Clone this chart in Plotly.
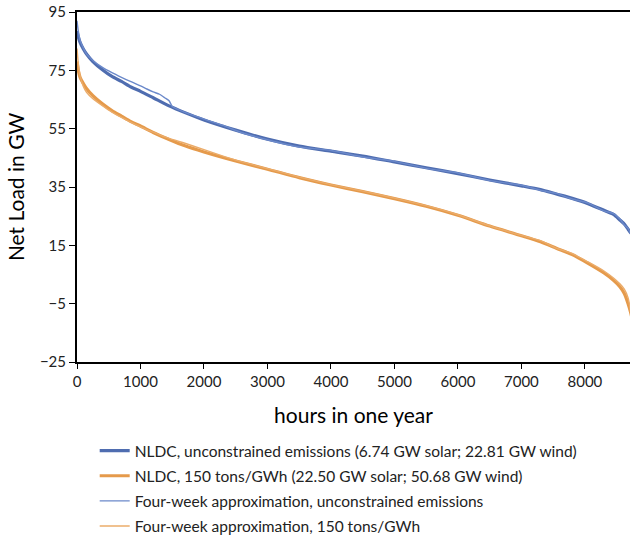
import plotly.graph_objects as go

# ---------------- data ----------------
hours = [0, 20, 50, 100, 150, 250, 400, 550, 700, 850, 1000, 1200, 1450, 1700,
         2000, 2500, 3000, 3500, 4000, 4500, 5000, 5500, 6000, 6500, 7000, 7300,
         7550, 7800, 8050, 8300, 8450, 8550, 8620, 8680, 8720, 8760]

nldc_unconstrained = [88.5, 86.5, 84.5, 82.3, 80.6, 78.0, 75.2, 72.9, 71.2, 69.3,
                      67.8, 65.6, 62.8, 60.5, 58.0, 54.5, 51.4, 49.0, 47.3, 45.6,
                      43.6, 41.6, 39.6, 37.4, 35.4, 34.1, 32.6, 31.1, 29.3, 27.0,
                      25.6, 23.7, 22.3, 20.5, 19.3, 18.5]

nldc_150 = [78.0, 75.0, 72.5, 70.5, 68.8, 66.3, 63.5, 61.2, 59.3, 57.4,
            55.9, 53.7, 51.3, 49.1, 47.0, 43.9, 41.1, 38.2, 35.7, 33.4,
            31.0, 28.4, 25.3, 21.6, 18.3, 16.2, 14.0, 11.8, 8.8, 5.5,
            3.0, 0.8, -1.5, -5.0, -8.0, -12.0]

approx_hours = [0, 20, 50, 100, 150, 250, 400, 550, 700, 850, 1000, 1100, 1200,
                1300, 1380, 1450, 1500, 1700, 2000, 2300, 2600, 3000, 3500, 4000,
                4500, 5000, 5500, 6000, 6500, 7000, 7300, 7550, 7800, 8050, 8300,
                8450, 8550, 8620, 8680, 8720, 8760]

approx_unconstrained = [92.0, 88.5, 85.2, 82.6, 80.6, 78.4, 76.0, 74.2, 72.6, 71.1,
                        69.7, 68.6, 67.6, 66.8, 65.6, 64.6, 62.6, 60.6, 58.3, 56.1,
                        53.6, 51.2, 48.7, 47.5, 45.3, 43.8, 41.4, 39.8, 37.2, 35.6,
                        33.9, 32.8, 30.9, 29.5, 26.8, 25.9, 24.0, 22.0, 20.8, 19.0,
                        18.0]

approx_150 = [82.5, 77.5, 73.0, 69.5, 67.5, 65.3, 62.9, 60.7, 58.9, 57.2,
              55.6, 54.6, 53.8, 52.9, 52.2, 51.7, 51.3, 50.0, 47.8, 45.6,
              43.6, 41.3, 38.4, 35.8, 33.6, 31.2, 28.6, 25.5, 21.7, 18.4,
              16.6, 14.0, 12.2, 9.3, 6.2, 3.8, 1.8, 0.0, -3.0, -8.0, -16.0]

names = [
    "NLDC, unconstrained emissions (6.74 GW solar; 22.81 GW wind)",
    "NLDC, 150 tons/GWh (22.50 GW solar; 50.68 GW wind)",
    "Four-week approximation, unconstrained emissions",
    "Four-week approximation, 150 tons/GWh",
]

BLUE = "#4F6DB0"
ORANGE = "#E59A4B"
BLUE_THIN = "#6B89CA"
ORANGE_THIN = "#EBAC6A"

fig = go.Figure()
fig.add_trace(go.Scatter(x=hours, y=nldc_unconstrained, mode="lines", name=names[0],
                         legendgroup="a",
                         line=dict(color=BLUE, width=3.2, shape="spline", smoothing=0.7)))
fig.add_trace(go.Scatter(x=hours, y=nldc_150, mode="lines", name=names[1],
                         legendgroup="b",
                         line=dict(color=ORANGE, width=3.2, shape="spline", smoothing=0.7)))
fig.add_trace(go.Scatter(x=approx_hours, y=approx_unconstrained, mode="lines", name=names[2],
                         legendgroup="c",
                         line=dict(color=BLUE_THIN, width=1.4, shape="spline", smoothing=0.5)))
fig.add_trace(go.Scatter(x=approx_hours, y=approx_150, mode="lines", name=names[3],
                         legendgroup="d",
                         line=dict(color=ORANGE_THIN, width=1.4, shape="spline", smoothing=0.5)))

FONT = "Lato, 'Open Sans', sans-serif"

fig.update_layout(
    width=630, height=539,
    margin=dict(l=77, r=0, t=12, b=177, autoexpand=False),
    paper_bgcolor="white", plot_bgcolor="white",
    font=dict(family=FONT, color="#222", size=15),
    showlegend=True,
    legend=dict(
        x=0.032, y=0.1948, xanchor="left", yanchor="top", yref="container",
        font=dict(size=15.5, color="#222"),
        tracegroupgap=2, bgcolor="rgba(0,0,0,0)",
    ),
)
fig.update_xaxes(
    range=[0, 8710], tickmode="array", tickvals=[0, 1000, 2000, 3000, 4000, 5000, 6000, 7000, 8000],
    showgrid=False, zeroline=False,
    showline=True, linecolor="black", linewidth=1.5, mirror=True,
    ticks="outside", ticklen=5, tickcolor="black", tickwidth=1,
    tickfont=dict(size=15, color="#222"),
    title=dict(text="hours in one year", font=dict(size=21, color="black"), standoff=20),
)
fig.update_yaxes(
    range=[-25, 95], tickmode="array", tickvals=[-25, -5, 15, 35, 55, 75, 95],
    showgrid=False, zeroline=False,
    showline=True, linecolor="black", linewidth=2,
    ticks="outside", ticklen=6, tickcolor="black", tickwidth=1,
    tickfont=dict(size=15, color="#222"),
    title=dict(text="Net Load in GW", font=dict(size=21, color="black"), standoff=10),
)

fig.write_html("out.html")
